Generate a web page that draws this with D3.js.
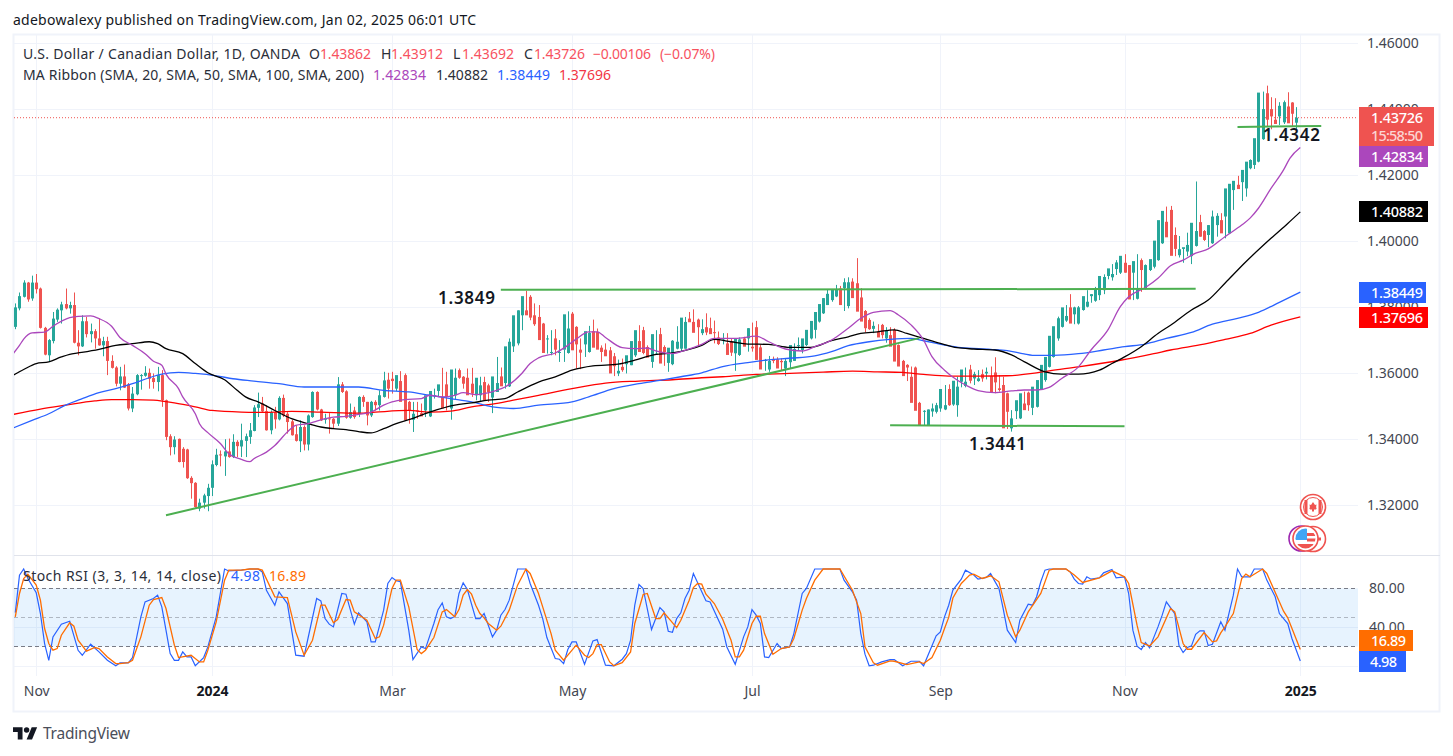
<!DOCTYPE html>
<html><head><meta charset="utf-8">
<script src="https://cdn.jsdelivr.net/npm/d3@7"></script>
<style>html,body{margin:0;padding:0;background:#fff;overflow:hidden}svg{display:block}text{font-family:"Noto Sans",sans-serif}</style>
</head><body><svg id="c" width="1453" height="756"></svg>
<script>
// Candles, prices in 1/10000
const opens=[13740,13796,13831,13874,13826,13874,13856,13737,13654,13697,13762,13790,13809,13796,13806,13692,13681,13757,13718,13727,13705,13684,13697,13637,13617,13568,13590,13566,13493,13536,13592,13592,13601,13585,13573,13594,13518,13409,13376,13401,13371,13369,13283,13268,13190,13208,13228,13253,13322,13354,13348,13363,13346,13392,13378,13395,13407,13425,13495,13508,13485,13427,13482,13460,13525,13477,13454,13415,13394,13437,13384,13467,13543,13490,13459,13463,13462,13447,13566,13545,13465,13487,13477,
13528,13513,13472,13513,13503,13528,13580,13583,13553,13576,13594,13513,13459,13487,13479,13487,13469,13530,13546,13528,13566,13493,13533,13609,13589,13586,13568,13533,13533,13573,13563,13526,13543,13590,13570,13560,13681,13690,13775,13790,13831,13775,13770,13750,13703,13661,13705,13664,13671,13661,13780,13740,13671,13687,13664,13727,13725,13677,13671,13669,13651,13599,13619,13627,13624,13654,13697,13730,13679,13634,13659,13718,13679,13631,13627,13674,13674,13674,13765,13755,13762,
13721,13739,13736,13724,13708,13705,13690,13695,13660,13655,13705,13705,13680,13739,13678,13640,13611,13643,13642,13637,13614,13633,13637,13683,13670,13685,13705,13731,13756,13781,13806,13821,13832,13856,13857,13803,13877,13872,13829,13788,13761,13734,13726,13746,13705,13715,13731,13685,13637,13625,13589,13617,13510,13486,13443,13484,13483,13493,13490,13552,13505,13503,13574,13561,13611,13584,13576,13597,13599,13591,13602,13554,13564,13539,13433,13485,13463,13508,13541,13495,13498,13551,13579,
13619,13649,13705,13740,13759,13799,13778,13750,13791,13801,13833,13819,13836,13851,13894,13890,13915,13904,13934,13927,13904,13825,13942,13856,13912,13922,13942,13993,14058,14094,14018,13957,13976,13968,13954,13985,14057,14030,14018,13993,14048,14063,14074,14023,14154,14170,14178,14159,
14220,14230,14240,14308,14447,14399,14367,14377,14359,14407,14419,14358,14386];
const closes=[13799,13833,13874,13823,13874,13854,13737,13656,13700,13765,13792,13808,13796,13806,13692,13681,13757,13718,13727,13705,13684,13697,13637,13616,13568,13590,13556,13493,13538,13594,13594,13601,13583,13573,13594,13518,13407,13376,13399,13331,13331,13282,13267,13195,13208,13230,13253,13324,13353,13351,13363,13346,13392,13379,13397,13409,13427,13496,13506,13484,13427,13482,13460,13525,13472,13452,13412,13395,13437,13384,13472,13543,13490,13457,13462,13461,13447,13566,13543,13465,13482,13467,13528,
13513,13472,13513,13503,13533,13578,13553,13576,13594,13513,13457,13487,13477,13485,13469,13533,13546,13533,13566,13493,13528,13611,13586,13586,13568,13533,13538,13586,13563,13518,13543,13590,13570,13560,13681,13695,13775,13790,13833,13775,13768,13748,13700,13661,13705,13664,13671,13664,13778,13735,13669,13687,13662,13727,13722,13677,13671,13664,13651,13599,13621,13607,13609,13654,13697,13730,13664,13661,13647,13718,13659,13629,13664,13677,13698,13695,13768,13755,13754,13722,
13739,13733,13723,13718,13721,13688,13705,13655,13662,13705,13702,13680,13736,13675,13640,13611,13640,13637,13637,13614,13633,13637,13685,13673,13685,13705,13731,13758,13785,13809,13827,13840,13854,13852,13806,13875,13875,13827,13786,13756,13736,13733,13743,13708,13715,13729,13680,13635,13620,13591,13617,13510,13486,13443,13486,13490,13493,13503,13552,13503,13503,13577,13559,13611,13574,13577,13597,13584,13584,13604,13541,13572,13549,13433,13483,13463,13518,13539,13488,13503,13559,13579,13625,
13649,13713,13742,13766,13799,13773,13750,13799,13799,13833,13816,13839,13856,13894,13891,13917,13900,13935,13955,13904,13823,13939,13856,13912,13927,13945,14001,14063,14091,14011,13955,13976,13975,13981,13988,14055,14030,14013,14003,14048,14074,14076,14023,14159,14173,14182,14157,14215,
14240,14245,14311,14449,14399,14367,14377,14354,14409,14420,14356,14385,14373];
const highs=[13811,13844,13881,13876,13895,13900,13859,13740,13703,13785,13796,13816,13856,13816,13844,13730,13775,13770,13750,13733,13765,13710,13710,13654,13621,13619,13626,13570,13558,13597,13597,13621,13614,13599,13619,13609,13520,13415,13409,13402,13376,13371,13288,13270,13220,13235,13265,13336,13371,13366,13400,13402,13415,13397,13447,13417,13449,13503,13541,13528,13503,13487,13498,13530,13535,13482,13459,13442,13457,13442,13475,13545,13545,13492,13477,13479,13464,13588,13573,13548,13508,13498,13530,
13533,13513,13516,13518,13548,13604,13601,13604,13588,13606,13599,13516,13513,13513,13508,13518,13543,13553,13560,13616,13604,13528,13614,13614,13591,13614,13616,13558,13589,13589,13568,13548,13649,13617,13599,13705,13728,13790,13796,13849,13836,13811,13806,13752,13715,13730,13733,13700,13672,13787,13785,13742,13705,13695,13743,13762,13735,13684,13690,13679,13661,13641,13644,13634,13669,13700,13745,13740,13684,13656,13730,13737,13684,13664,13700,13742,13712,13770,13785,13793,13765,
13763,13781,13768,13759,13726,13721,13721,13705,13690,13708,13710,13736,13753,13758,13685,13643,13652,13650,13648,13645,13645,13648,13690,13708,13688,13715,13749,13776,13791,13827,13852,13847,13867,13864,13887,13890,13887,13948,13857,13791,13766,13756,13748,13749,13739,13739,13736,13687,13640,13627,13620,13620,13513,13488,13490,13508,13510,13508,13564,13566,13510,13589,13579,13617,13625,13604,13609,13611,13617,13620,13648,13594,13589,13541,13488,13488,13520,13544,13544,13508,13561,13581,13630,
13675,13720,13771,13786,13806,13839,13801,13803,13806,13851,13839,13861,13867,13899,13907,13930,13942,13944,13960,13927,13907,13960,13947,13929,13930,13963,14008,14065,14104,14106,14041,14015,13978,14025,14008,14180,14079,14033,14048,14092,14084,14084,14076,14165,14177,14197,14200,14235,
14247,14276,14321,14452,14470,14435,14432,14420,14425,14450,14420,14405,14391];
const lows=[13733,13790,13829,13816,13819,13841,13735,13654,13634,13690,13755,13750,13793,13780,13690,13654,13679,13708,13693,13674,13683,13651,13594,13614,13560,13548,13555,13487,13482,13533,13550,13589,13553,13553,13545,13498,13397,13351,13354,13330,13314,13280,13220,13193,13182,13190,13182,13228,13318,13318,13289,13344,13343,13346,13346,13346,13386,13424,13467,13482,13426,13415,13432,13457,13467,13417,13411,13393,13361,13366,13366,13465,13487,13455,13447,13417,13432,13440,13540,13462,13462,13462,13467,
13498,13442,13467,13487,13487,13526,13523,13538,13546,13570,13511,13447,13422,13462,13472,13467,13467,13523,13528,13523,13487,13459,13520,13583,13553,13548,13528,13518,13516,13528,13513,13479,13543,13568,13553,13558,13664,13684,13730,13785,13760,13743,13747,13690,13659,13654,13654,13634,13634,13659,13734,13614,13612,13649,13662,13720,13674,13634,13663,13634,13591,13591,13604,13599,13624,13649,13695,13657,13657,13616,13657,13657,13622,13604,13624,13672,13664,13674,13755,13750,13684,
13715,13715,13721,13690,13685,13687,13682,13652,13607,13652,13700,13665,13665,13673,13620,13607,13604,13630,13628,13609,13591,13614,13637,13670,13660,13682,13702,13705,13753,13779,13806,13816,13830,13842,13788,13796,13852,13796,13784,13723,13731,13721,13721,13705,13692,13685,13678,13633,13607,13576,13574,13506,13463,13442,13441,13468,13478,13483,13488,13501,13501,13468,13557,13557,13569,13564,13574,13574,13581,13544,13539,13544,13488,13431,13423,13461,13461,13506,13486,13473,13496,13549,13574,
13617,13647,13698,13738,13755,13771,13748,13747,13789,13799,13813,13816,13821,13839,13884,13880,13897,13900,13904,13877,13821,13823,13846,13853,13909,13917,13940,13991,14038,14008,13954,13950,13934,13954,13930,13983,14013,14000,13981,13991,14013,14028,14008,14021,14094,14159,14121,14134,
14217,14218,14238,14306,14346,14338,14354,14351,14354,14405,14346,14338,14369];

const ma20Bars=[-0.5,1,2,4,7,9,13,15,18,20,23,25,28,31,33,35,36,39,40,43,44,46,49,51,54,56,57,60,62,65,67,70,72,74,76,79,82,85,88,90,93,97,99,102,105,107,110,112,115,117,121,123,125,129,132,134,137,139,141,145,148,151,153,157,160,164,167,172,177,180,184,188,191,195,199,202,205,209,211,214,217,219,222,225,227,230,234,238,241,244,247,250,254,257,261,264,266,270,273,276,279,282,285,289,293,295,297,300,303,304.5,307];
const ma20Vals=[13659,13684,13703,13722,13724,13742,13768,13772,13773,13765,13742,13708,13684,13659,13636,13624,13597,13553,13528,13477,13447,13420,13387,13356,13339,13332,13341,13361,13381,13422,13442,13447,13455,13462,13467,13469,13475,13482,13503,13513,13520,13523,13533,13528,13533,13541,13535,13538,13548,13558,13599,13629,13646,13661,13684,13703,13725,13725,13708,13677,13674,13676,13667,13659,13669,13687,13705,13705,13712,13695,13673,13667,13680,13700,13736,13766,13784,13789,13776,13746,13700,13650,13609,13579,13564,13547,13541,13546,13549,13549,13557,13584,13619,13670,13730,13801,13831,13859,13887,13925,13942,13963,13976,14013,14048,14069,14099,14159,14215,14250,14283];
const ma50Bars=[-0.5,2,5,8,11,13,15,20,24,28,32,34,36,40,43,46,50,53,55,58,62,66,70,73,76,79,82,85,88,91,94,99,105,109,113,117,120,125,129,133,138,144,148,152,157,164,167,171,175,180,185,190,195,199,202,206,210,213,217,221,225,229,234,238,241,246,250,254,259,262,265,269,273,276,281,285,289,294,300,304,307];
const ma50Vals=[13594,13611,13629,13634,13649,13657,13661,13672,13684,13689,13695,13689,13674,13659,13629,13601,13580,13548,13528,13513,13487,13462,13447,13437,13432,13429,13423,13419,13432,13447,13459,13482,13503,13510,13518,13523,13543,13573,13589,13609,13622,13627,13639,13654,13661,13684,13702,13695,13688,13687,13678,13678,13698,13710,13720,13725,13731,13720,13705,13690,13677,13673,13670,13655,13635,13604,13597,13597,13609,13629,13649,13680,13720,13745,13791,13821,13872,13937,14008,14053,14088];
const ma100Bars=[-0.5,4,8,12,16,20,24,28,32,35,39,43,48,52,57,63,69,76,82,88,94,99,104,109,114,119,125,133,137,143,149,154,159,164,169,175,180,185,191,195,199,204,209,214,217,222,226,233,237,241,243,248,254,260,265,270,275,281,286,292,297,302,307];
const ma100Vals=[13434,13457,13477,13503,13523,13541,13553,13568,13586,13597,13602,13599,13592,13583,13576,13568,13558,13558,13558,13548,13543,13533,13523,13513,13498,13493,13503,13513,13528,13553,13568,13578,13589,13601,13620,13632,13640,13645,13652,13665,13683,13695,13702,13705,13698,13685,13677,13672,13668,13658,13654,13654,13659,13670,13680,13688,13705,13723,13748,13766,13784,13814,13845];
const ma200Bars=[-0.5,6,12,19,23,28,33,38,43,47,54,60,66,73,82,86,94,99,104,109,114,119,125,133,141,149,157,164,169,177,185,193,200,206,212,217,223,230,237,243,247,254,264,272,276,284,289,295,300,307];
const ma200Vals=[13475,13491,13503,13516,13520,13520,13518,13510,13498,13487,13482,13481,13484,13482,13479,13482,13487,13482,13485,13498,13506,13518,13533,13553,13570,13576,13580,13586,13589,13596,13599,13603,13606,13604,13602,13596,13591,13591,13592,13599,13607,13619,13639,13659,13670,13688,13702,13720,13745,13770];

const kBars=[0,1,2,3,5,6,7,8,9,11,13,15,16,18,20,22,24,25,27,28,30,31,33,34,35,36,37,38,39,40,41,42,43,45,46,48,50,51,54,56,58,59,60,62,63,65,67,69,72,73,74,75,76,78,79,81,82,84,85,86,88,89,90,91,92,94,95,97,98,100,101,102,103,104,105,106,107,108,110,111,112,114,115,116,117,118,120,122,123,125,126,127,129,130,131,132,133,134,136,138,139,141,143,145,146,147,148,149,150,152,154,155,156,157,158,159,160,161,162,165,166,169,170,172,174,175,176,177,178,179,180,182,183,185,186,188,189,191,193,197,198,200,201,202,203,204,205,207,209,210,212,214,216,217,220,221,222,223,224,226,227,229,230,232,233,234,235,236,237,239,240,242,243,244,245,246,247,251,252,253,254,255,256,257,259,260,262,263,265,266,267,268,269,270,271,273,274,275,277,278,279,280,281,282,283,284,285,286,288,289,291,292,293,295,296,298,299,301,302,304,305,307];
const kVals=[55,93.6,100,90.2,75.4,54,23,5.7,29.9,43,46,16,10.9,22.3,14.4,5.7,0,3,3,8.5,50.6,66,69.5,73,60.9,36.8,12.6,5.7,5.7,14.4,9.2,9.2,0,8.5,19.5,50.6,100,98,98.8,100,100,97,78,62.6,76.4,64.3,11,9.9,69.5,67,48.8,43,40.2,74.7,74,43,54.7,45.4,24.7,24.7,57.5,85,91.2,87.8,86.8,36.8,6.4,19.5,17.8,43.7,58,65,50.6,48.8,51,74.7,85.7,78.8,48.8,48.8,54,29.9,36.8,52.3,58.1,67.8,100,100,85,62.6,48.8,29.2,7.5,6.8,2.3,16.8,24.7,24.7,1.6,25.7,27.1,0.6,0,6.8,12.6,26.4,62.6,84,79.9,37.5,60.2,55.7,35.7,34.7,48.8,54.7,69.5,78.1,95.4,67.1,66,37.8,19.5,1.6,29.9,40.2,58.1,52.3,43.7,9.2,8.5,23,17.8,19.5,33.3,74.7,79.9,100,100,100,88.5,76.4,67.8,33.3,12,0,0.6,4,6.4,6.4,0,4.7,4.7,0,30.9,35,50.6,62.6,78.2,89.5,98.8,93.7,89.5,91.2,95.4,87.5,79.9,59.2,36.8,24,47.1,63.7,62.6,71.3,86.8,98.8,100,100,97.1,89.5,85,84.4,91.9,89.5,90.9,96,99.5,90.9,91.9,74.7,36.8,20.2,16.8,24,18.5,40.2,52.3,66.1,54,21.3,13.7,18.9,20.6,32.6,36.1,36.1,20.9,22.3,45.4,36.8,73,100,91.9,91.9,100,100,88.5,71.3,54,43.7,28.2,4.98];
const dBars=[0,1,2,3,5,6,7,8,9,10,11,13,14,15,17,19,20,22,24,25,27,28,30,32,33,35,36,38,39,42,44,45,46,48,50,51,54,56,58,59,62,65,67,69,71,73,74,76,77,79,80,81,84,86,87,88,90,91,92,94,96,97,98,100,102,103,105,106,107,108,109,110,111,112,113,115,116,118,120,122,123,125,126,128,129,131,134,136,137,138,139,140,142,143,145,147,148,150,151,153,154,155,158,159,161,162,163,164,165,167,169,171,172,173,174,176,177,178,179,181,183,185,186,188,189,191,193,197,200,202,203,205,206,209,210,213,216,217,219,221,222,223,224,226,228,229,231,233,235,237,239,240,242,245,247,248,251,253,255,259,262,265,266,268,269,271,273,276,277,279,280,281,284,286,287,288,289,291,293,294,295,298,299,303,304,307];
const dVals=[50.6,74.7,90.2,94.7,83.3,67.8,38.5,23,16.1,17.8,31.6,44.4,40.9,26.4,15.1,18.9,17.8,9.2,2.3,2.3,3.3,5.7,29.9,62.6,68.5,70.5,59.2,21.3,8.5,10.9,4,4,16.1,45.4,88.5,98.8,98.8,100,100,98.8,71.2,70.5,35,10.9,26.4,62.6,62.6,44.4,47.8,68.5,67.8,55.7,47.1,28.2,29.9,42,79.9,88.5,88.5,60.9,16.8,12.6,16.1,29.2,55.7,58.1,50.6,58.1,73,78.8,74,62.6,54,49.5,43.7,36.8,40.9,57.5,83.3,100,95.4,74.7,60.9,33.3,16.1,5.7,21.3,10.9,8.5,12.6,21.9,21.9,4,0,3.3,14.4,43.7,73.7,74.7,48.8,48.8,54.7,39.5,47.1,67.8,80.9,85,84.3,74,64.3,48.1,26.4,9.2,9.2,16.1,43.7,51.2,51.2,33.3,12,17.8,19.5,28.2,57.5,69.5,88.5,100,100,78.1,54,19.5,3,0.6,5,4.7,1.3,4,2.3,8.5,26.4,38.5,50,70,85,93.7,94.7,90.2,93,86.8,52.3,29.9,36.8,55.7,74.7,98.8,100,100,93.7,86.1,90.9,98.1,91.9,85,42,24,20.6,29.9,59.2,55.7,23,17.1,17.1,34.4,24.7,25.7,34,40.2,54,90.2,94.7,91.9,100,95.4,56.4,49.5,16.89];

const priceTicks=[1.46,1.44,1.42,1.40,1.38,1.36,1.34,1.32];
const stochGrid=[80,40];
const timeBars=[5,47,90,133,176,221,265,307];
const timeLabels=["Nov","2024","Mar","May","Jul","Sep","Nov","2025"];
const boldLabels=["2024","2025"];
// Hand-drawn green annotation lines: [bar, price] ends
const trendBars=[36,216], trendPrices=[1.3170,1.3706];
const topBars=[116,282], topPrices=[1.3852,1.3855];
const lowBars=[209,265], lowPrices=[1.3442,1.3439];
const recentBars=[292,312], recentPrices=[1.4345,1.4348];

const svg=d3.select("#c");
const PR=[14,1358], TOP=35,SEP=555,BOT=676;
const x=d3.scaleLinear().domain([0,307]).range([15.3,1300.3]);
const y=d3.scaleLinear().domain([1.46,1.32]).range([42.7,505.3]);
const s=d3.scaleLinear().domain([0,100]).range([665.8,569]);
const P=v=>v/10000;

const RED="#ef5350",GREEN="#26a69a",GRID="#f0f3fa",TXT="#131722",AX="#434651";

// frame
svg.append("rect").attr("x",13.5).attr("y",34.5).attr("width",1426).attr("height",677).attr("fill","none").attr("stroke",GRID).attr("stroke-width",2);
// grids
const g=svg.append("g");
g.selectAll(".hg").data(priceTicks).join("line").attr("x1",PR[0]).attr("x2",PR[1]).attr("y1",d=>Math.round(y(d))+.5).attr("y2",d=>Math.round(y(d))+.5).attr("stroke",GRID);
g.selectAll(".vg").data(timeBars).join("line").attr("x1",d=>Math.round(x(d))+.5).attr("x2",d=>Math.round(x(d))+.5).attr("y1",TOP).attr("y2",BOT).attr("stroke",GRID);
g.selectAll(".sg").data([40,0]).join("line").attr("x1",PR[0]).attr("x2",PR[1]).attr("y1",d=>Math.round(s(d))+.5).attr("y2",d=>Math.round(s(d))+.5).attr("stroke",GRID);
svg.append("line").attr("x1",14).attr("x2",1440).attr("y1",555.5).attr("y2",555.5).attr("stroke","#e0e3eb");

// clip
const defs=svg.append("defs");
defs.append("clipPath").attr("id","main").append("rect").attr("x",PR[0]).attr("y",TOP).attr("width",PR[1]-PR[0]).attr("height",SEP-TOP);
defs.append("clipPath").attr("id","sub").append("rect").attr("x",PR[0]).attr("y",SEP).attr("width",PR[1]-PR[0]).attr("height",BOT-SEP);

// last price dotted
svg.append("line").attr("x1",PR[0]).attr("x2",PR[1]).attr("y1",y(P(closes[closes.length-1]))).attr("y2",y(P(closes[closes.length-1]))).attr("stroke",RED).attr("stroke-dasharray","1 2");

const main=svg.append("g").attr("clip-path","url(#main)");
const idx=d3.range(closes.length);
const col=i=>closes[i]>=opens[i]?GREEN:RED;
main.selectAll(".w").data(idx).join("line").attr("x1",i=>Math.round(x(i))+.5).attr("x2",i=>Math.round(x(i))+.5)
 .attr("y1",i=>y(P(highs[i]))).attr("y2",i=>y(P(lows[i]))).attr("stroke",col);
main.selectAll(".b").data(idx).join("rect").attr("x",i=>Math.round(x(i))-1).attr("width",3)
 .attr("y",i=>Math.min(y(P(opens[i])),y(P(closes[i]))))
 .attr("height",i=>Math.max(1,Math.abs(y(P(opens[i]))-y(P(closes[i]))))).attr("fill",col);

function pairs(a,b){return a.map((d,i)=>[d,b[i]]);}
const maLine=d3.line().x(d=>x(d[0])).y(d=>y(P(d[1]))).curve(d3.curveMonotoneX);
[[ma200Bars,ma200Vals,"#ff0000"],[ma100Bars,ma100Vals,"#2962ff"],[ma50Bars,ma50Vals,"#000000"],[ma20Bars,ma20Vals,"#ab47bc"]].forEach(m=>{
 main.append("path").attr("d",maLine(pairs(m[0],m[1]))).attr("fill","none").attr("stroke",m[2]).attr("stroke-width",1.3);
});
// green annotation lines
const ln=d3.line().x(d=>x(d[0])).y(d=>y(d[1]));
[[trendBars,trendPrices],[topBars,topPrices],[lowBars,lowPrices],[recentBars,recentPrices]].forEach(a=>{
 svg.append("path").attr("d",ln(pairs(a[0],a[1]))).attr("fill","none").attr("stroke","#4caf50").attr("stroke-width",2);
});

// price axis
const ay=svg.append("g").attr("transform","translate(1359,0)").call(d3.axisRight(y).tickValues(priceTicks).tickSize(0).tickPadding(8).tickFormat(d3.format(".5f")));
ay.select(".domain").remove();
ay.selectAll("text").attr("font-size",14).attr("fill",AX).style("font-family",'"Noto Sans",sans-serif');

// annotation labels
const ann=[["1.3849",438,304],["1.3441",969,450],["1.4342",1263,141]];
svg.selectAll(".ann").data(ann).join("text").text(d=>d[0]).attr("x",d=>d[1]).attr("y",d=>d[2]).attr("font-size",17).attr("font-weight",600).attr("fill","#131722").attr("textLength",57).attr("lengthAdjust","spacing");

// stoch
svg.append("rect").attr("x",PR[0]).attr("width",PR[1]-PR[0]).attr("y",s(80)).attr("height",s(20)-s(80)).attr("fill","#2196f3").attr("fill-opacity",.11);
[[80,"#787b86",1],[50,"#787b86",.5],[20,"#787b86",1]].forEach(b=>{
 svg.append("line").attr("x1",PR[0]).attr("x2",PR[1]).attr("y1",Math.round(s(b[0]))+.5).attr("y2",Math.round(s(b[0]))+.5).attr("stroke",b[1]).attr("stroke-opacity",b[2]).attr("stroke-dasharray","4 3");
});
const sub=svg.append("g").attr("clip-path","url(#sub)");
const stLine=d3.line().x(d=>x(d[0])).y(d=>s(d[1]));
sub.append("path").attr("d",stLine(pairs(kBars,kVals))).attr("fill","none").attr("stroke","#2962ff").attr("stroke-width",1.2);
sub.append("path").attr("d",stLine(pairs(dBars,dVals))).attr("fill","none").attr("stroke","#ff6d00").attr("stroke-width",1.3);
const as=svg.append("g").attr("transform","translate(1359,0)").call(d3.axisRight(s).tickValues(stochGrid).tickSize(0).tickPadding(10).tickFormat(d3.format(".2f")));
as.select(".domain").remove();
as.selectAll("text").attr("font-size",14).attr("fill",AX).style("font-family",'"Noto Sans",sans-serif');

// time axis
const ax=svg.append("g").attr("transform","translate(0,685)").call(d3.axisBottom(x).tickValues(timeBars).tickSize(0).tickPadding(0).tickFormat((d,i)=>timeLabels[i]));
ax.select(".domain").remove();
ax.selectAll("text").attr("font-size",14).attr("fill",AX).style("font-family",'"Noto Sans",sans-serif').attr("dy","0.8em").attr("font-weight",(d,i)=>boldLabels.includes(timeLabels[i])?700:400).attr("fill",(d,i)=>boldLabels.includes(timeLabels[i])?"#131722":AX);

// price tags
const tags=[[107,146,1434,RED],[146,167,1428,"#ab47bc"],[201,222,1428,"#000"],[282,303,1426,"#2962ff"],[307,328,1428,"#ff0000"],[630,651,1413,"#ff6d00"],[651,672,1406,"#2962ff"]];
svg.selectAll(".tag").data(tags).join("rect").attr("x",1359).attr("y",d=>d[0]).attr("width",d=>d[2]-1359).attr("height",d=>d[1]-d[0]).attr("fill",d=>d[3]);
const tagT=[["1.43726",1371,123,"#fff",52],["15:58:50",1371,141,"#fbd5d4",52],["1.42834",1371,162,"#fff",52],["1.40882",1371,217,"#fff",52],["1.38449",1371,298,"#fff",52],["1.37696",1371,323,"#fff",52],["16.89",1371,646,"#fff",35],["4.98",1370,667,"#fff",27]];
svg.selectAll(".tagt").data(tagT).join("text").text(d=>d[0]).attr("x",d=>d[1]).attr("y",d=>d[2]).attr("font-size",14.5).attr("font-weight",500).attr("fill",d=>d[3]).attr("textLength",d=>d[4]).attr("lengthAdjust","spacing");

// legends
function legend(parts,yy,fs){svg.append("g").selectAll("text").data(parts).join("text").text(d=>d[0]).attr("x",d=>d[1]).attr("y",yy).attr("fill",d=>d[2]).attr("font-size",fs).attr("textLength",d=>d[3]).attr("lengthAdjust","spacing");}
const LR="#f7525f";
legend([["adebowalexy published on TradingView.com, Jan 02, 2025 06:01 UTC",13,"#131722",463]],25,14);
legend([["U.S. Dollar / Canadian Dollar, 1D, OANDA",23,"#2a2e39",277],["O",309,"#2a2e39",10],["1.43862",320,LR,51],["H",381,"#2a2e39",10],["1.43912",391,LR,52],["L",453,"#2a2e39",8],["1.43692",462,LR,52],["C",524,"#2a2e39",9],["1.43726",534,LR,51],["−0.00106",593,LR,58],["(−0.07%)",660,LR,55]],59,14);
legend([["MA Ribbon (SMA, 20, SMA, 50, SMA, 100, SMA, 200)",23,"#2a2e39",341],["1.42834",373,"#ab47bc",53],["1.40882",436,"#2a2e39",52],["1.38449",497,"#2962ff",53],["1.37696",559,"#f23645",52]],80,14);
legend([["Stoch RSI (3, 3, 14, 14, close)",23,"#2a2e39",198],["4.98",231,"#2962ff",29],["16.89",269,"#ff6d00",37]],581,14);

// flags
function ring(cx,cy,r){const gg=svg.append("g");gg.append("circle").attr("cx",cx).attr("cy",cy).attr("r",r).attr("fill","#fff").attr("stroke",RED).attr("stroke-width",1.6);return gg;}
const ca=ring(1313,507,12.5);
ca.append("circle").attr("cx",1313).attr("cy",507).attr("r",9.5).attr("fill","#fff").attr("stroke",RED).attr("stroke-width",1);
ca.append("rect").attr("x",1304.5).attr("y",500).attr("width",3).attr("height",14).attr("fill",RED);
ca.append("rect").attr("x",1318.5).attr("y",500).attr("width",3).attr("height",14).attr("fill",RED);
ca.append("path").attr("d","M1313 502l2 3 1.5-.5-.5 3.5 1-.5-1 2h-2v2h-2v-2h-2l-1-2 1 .5-.5-3.5 1.5.5z").attr("fill",RED);
const ca2=ring(1313,539,12.5);
ca2.append("rect").attr("x",1306).attr("y",537.5).attr("width",15).attr("height",3).attr("fill",RED);
svg.append("circle").attr("cx",1301.5).attr("cy",538.5).attr("r",12.5).attr("fill","#fff").attr("stroke","#9c27b0").attr("stroke-width",1.6);
const us=ring(1305.5,538.5,12.5);
us.append("circle").attr("cx",1305.5).attr("cy",538.5).attr("r",10).attr("fill","#fff");
defs.append("clipPath").attr("id","fl").append("circle").attr("cx",1305.5).attr("cy",538.5).attr("r",10);
const uf=us.append("g").attr("clip-path","url(#fl)");
uf.append("rect").attr("x",1307).attr("y",533).attr("width",10).attr("height",3).attr("fill",RED);
uf.append("rect").attr("x",1307).attr("y",538.5).attr("width",10).attr("height",3).attr("fill",RED);
uf.append("rect").attr("x",1295).attr("y",544).attr("width",22).attr("height",5).attr("fill",RED);
uf.append("rect").attr("x",1295).attr("y",528).attr("width",12).attr("height",12).attr("fill","#42a5f5");

// footer logo
const lg=svg.append("g").attr("transform","translate(13,724.5) scale(0.68)").attr("fill","#131722");
lg.append("path").attr("d","M14 22H7V11H0V4h14v18zM28 22h-8l7.5-18h8L28 22z");
lg.append("circle").attr("cx",20).attr("cy",8).attr("r",4);
svg.append("text").text("TradingView").attr("x",43).attr("y",739).attr("font-size",15.5).attr("fill","#4a4e59").attr("textLength",87).attr("lengthAdjust","spacing");
</script></body></html>
